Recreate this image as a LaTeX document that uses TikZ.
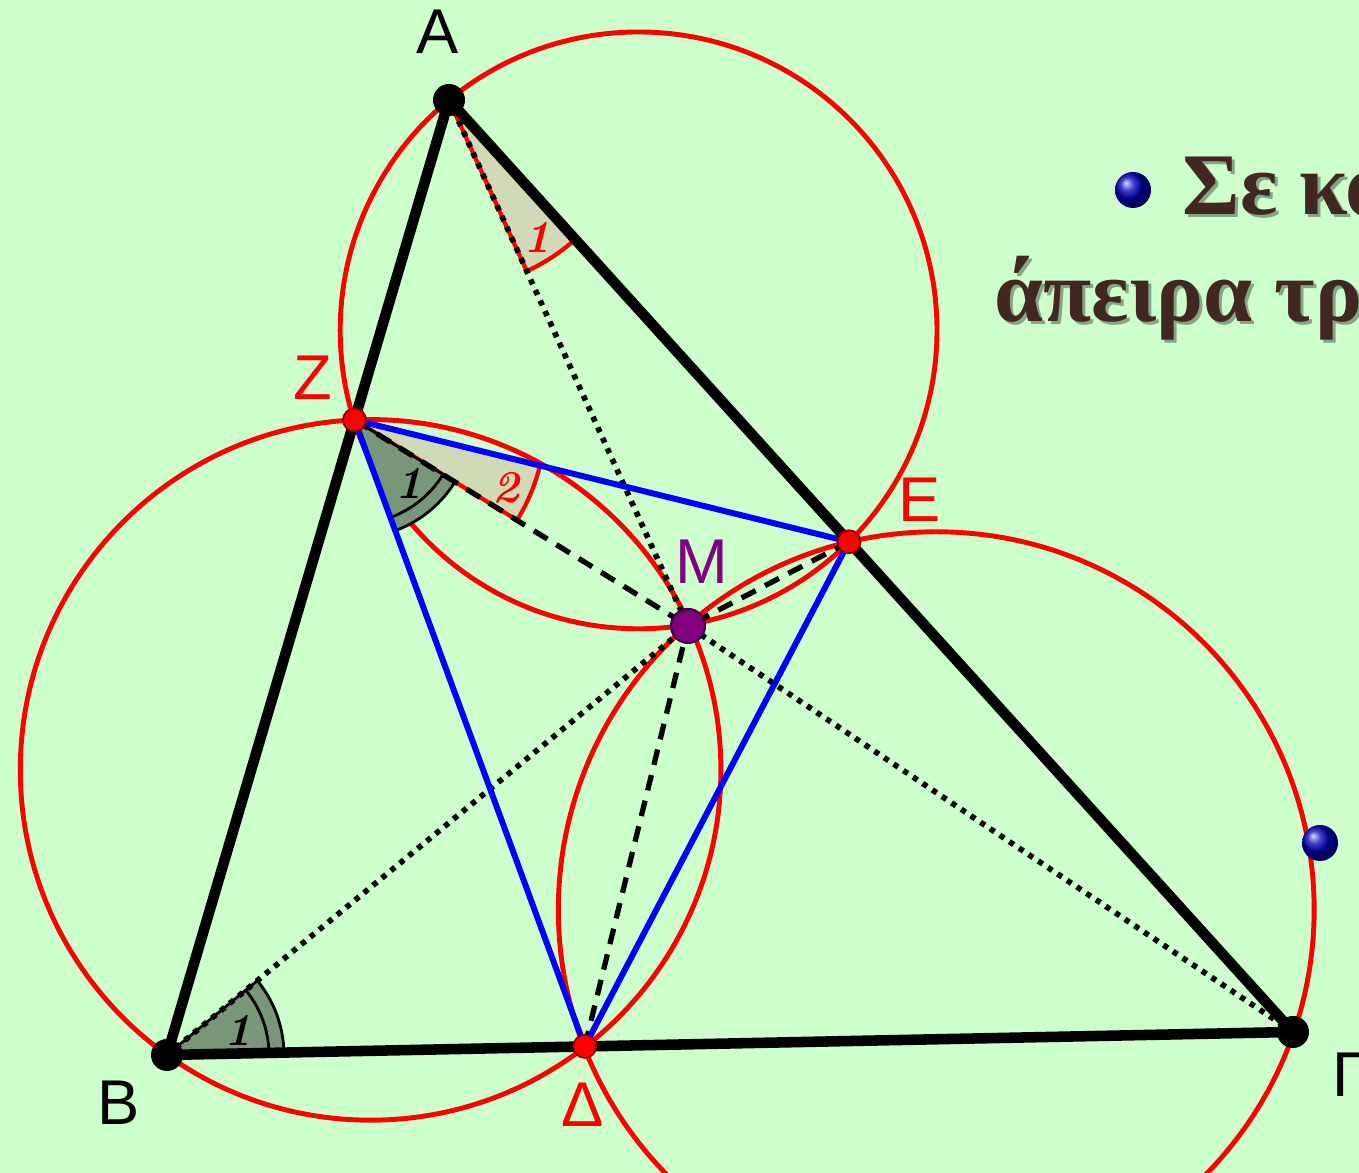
\documentclass[tikz,border=0pt]{standalone}
\usepackage{fontspec}
\newfontfamily\ptfont{Liberation Sans}
\newfontfamily\grfont{Liberation Serif}
\usetikzlibrary{calc}

\definecolor{bggreen}{RGB}{204,255,204}
\definecolor{darkangle}{RGB}{120,150,120}
\definecolor{lightangle}{RGB}{208,218,182}
\definecolor{miquelcol}{RGB}{128,0,128}
\definecolor{textbrown}{RGB}{66,38,34}

\begin{document}
\begin{tikzpicture}[
    side/.style={line width=3pt, black, line cap=round},
    circ/.style={red, line width=1.4pt},
    pedal/.style={blue, line width=1.7pt},
    dotline/.style={line width=1.6pt, dash pattern=on 1.5pt off 1.8pt},
    dashline/.style={line width=1.5pt, dash pattern=on 4.5pt off 3pt},
    darksector/.style={fill=darkangle, draw=black, line width=0.8pt},
    lightsector/.style={fill=lightangle, draw=red, line width=1.2pt},
    vertexdot/.style={circle, fill=black, inner sep=0pt, minimum size=0.32cm},
    footdot/.style={circle, fill=red, draw=red!55!black, line width=0.5pt, inner sep=0pt, minimum size=0.23cm},
    miqueldot/.style={circle, fill=miquelcol, draw=miquelcol!50!black, line width=0.6pt, inner sep=0pt, minimum size=0.34cm},
    ptlabel/.style={inner sep=0pt, font=\ptfont\fontsize{18}{20}\selectfont},
    anglenum/.style={inner sep=0pt, font=\fontsize{13}{15}\selectfont\bfseries\itshape},
    ballpt/.style={circle, inner sep=0pt, minimum size=0.36cm, shading=ball, ball color=blue!75!black},
    grtext/.style={anchor=base west, inner sep=0pt, text=textbrown, font=\grfont\bfseries\fontsize{25}{30}\selectfont},
    grshadow/.style={grtext, text=black, opacity=0.35}
]

\useasboundingbox (0,0) rectangle (13.59,11.73);
\fill[bggreen] (0,0) rectangle (13.59,11.73);
\clip (0,0) rectangle (13.59,11.73);

% triangle and points on its sides
\coordinate (A) at (4.49,10.73);
\coordinate (B) at (1.67,1.18);
\coordinate (G) at (12.93,1.41);
\coordinate (Z) at ($(A)!0.335!(B)$);
\coordinate (E) at ($(A)!0.474!(G)$);
\coordinate (D) at ($(B)!0.371!(G)$);
\coordinate (M) at (6.88,5.47);

% the three circles through M
\coordinate (OA) at (6.386,8.426);
\coordinate (OB) at (3.706,4.031);
\coordinate (OG) at (9.3625,2.633);
\draw[circ] (OA) circle[radius=2.984];
\draw[circ] (OB) circle[radius=3.503];
\draw[circ] (OG) circle[radius=3.779];

% angles
\filldraw[lightsector] (A) -- ++(-65.57:1.88) arc[start angle=-65.57, end angle=-47.84, radius=1.88] -- cycle;
\filldraw[lightsector] (Z) -- ++(-31.67:1.91) arc[start angle=-31.67, end angle=-13.85, radius=1.91] -- cycle;
\filldraw[darksector] (Z) -- ++(-69.78:1.18) arc[start angle=-69.78, end angle=-31.67, radius=1.18] -- cycle;
\draw[black, line width=0.8pt] (Z) ++(-69.78:1.04) arc[start angle=-69.78, end angle=-31.67, radius=1.04];
\filldraw[darksector] (B) -- ++(1.17:1.17) arc[start angle=1.17, end angle=39.47, radius=1.17] -- cycle;
\draw[black, line width=0.8pt] (B) ++(1.17:1.02) arc[start angle=1.17, end angle=39.47, radius=1.02];

% segments to M
\draw[dotline] (A) -- (M);
\draw[dotline] (B) -- (M);
\draw[dotline] (G) -- (M);
\draw[dashline] (Z) -- (M);
\draw[dashline] (E) -- (M);
\draw[dashline] (D) -- (M);

\draw[pedal, line join=round] (Z) -- (E) -- (D) -- cycle;
\draw[side, line join=round] (A) -- (B) -- (G) -- cycle;

\node[vertexdot] (dotA) at (A) {};
\node[vertexdot] (dotB) at (B) {};
\node[vertexdot] (dotG) at (G) {};
\node[footdot] (dotZ) at (Z) {};
\node[footdot] (dotE) at (E) {};
\node[footdot] (dotD) at (D) {};
\node[miqueldot] (dotM) at (M) {};

% labels
\node[ptlabel] (labA) at (4.38,11.41) {A};
\node[ptlabel] (labB) at (1.19,0.70) {B};
\node[ptlabel, anchor=west] (labG) at (13.32,0.98) {Γ};
\node[ptlabel, red] (labZ) at (3.13,7.95) {Z};
\node[ptlabel, red] (labE) at (9.20,6.73) {E};
\node[ptlabel, red] (labD) at (5.83,0.68) {Δ};
\node[ptlabel, miquelcol] (labM) at (7.02,6.11) {M};

\node[anglenum, red] (numA) at ($(A)+(-57.5:1.63)$) {1};
\node[anglenum] (numZa) at ($(Z)+(-49.4:0.83)$) {1};
\node[anglenum, red] (numZb) at ($(Z)+(-24.2:1.66)$) {2};
\node[anglenum] (numB) at ($(B)+(19.4:0.75)$) {1};

% text on the right
\node[ballpt] (ball1) at (11.33,9.83) {};
\node[grshadow] (shadow1) at (11.85,9.55) {Σε κα};
\node[grtext] (line1) at (11.82,9.58) {Σε κα};
\node[grshadow] (shadow2) at (9.97,8.48) {άπειρα τρ};
\node[grtext] (line2) at (9.94,8.51) {άπειρα τρ};
\node[ballpt] (ball2) at (13.20,3.30) {};

\end{tikzpicture}
\end{document}
